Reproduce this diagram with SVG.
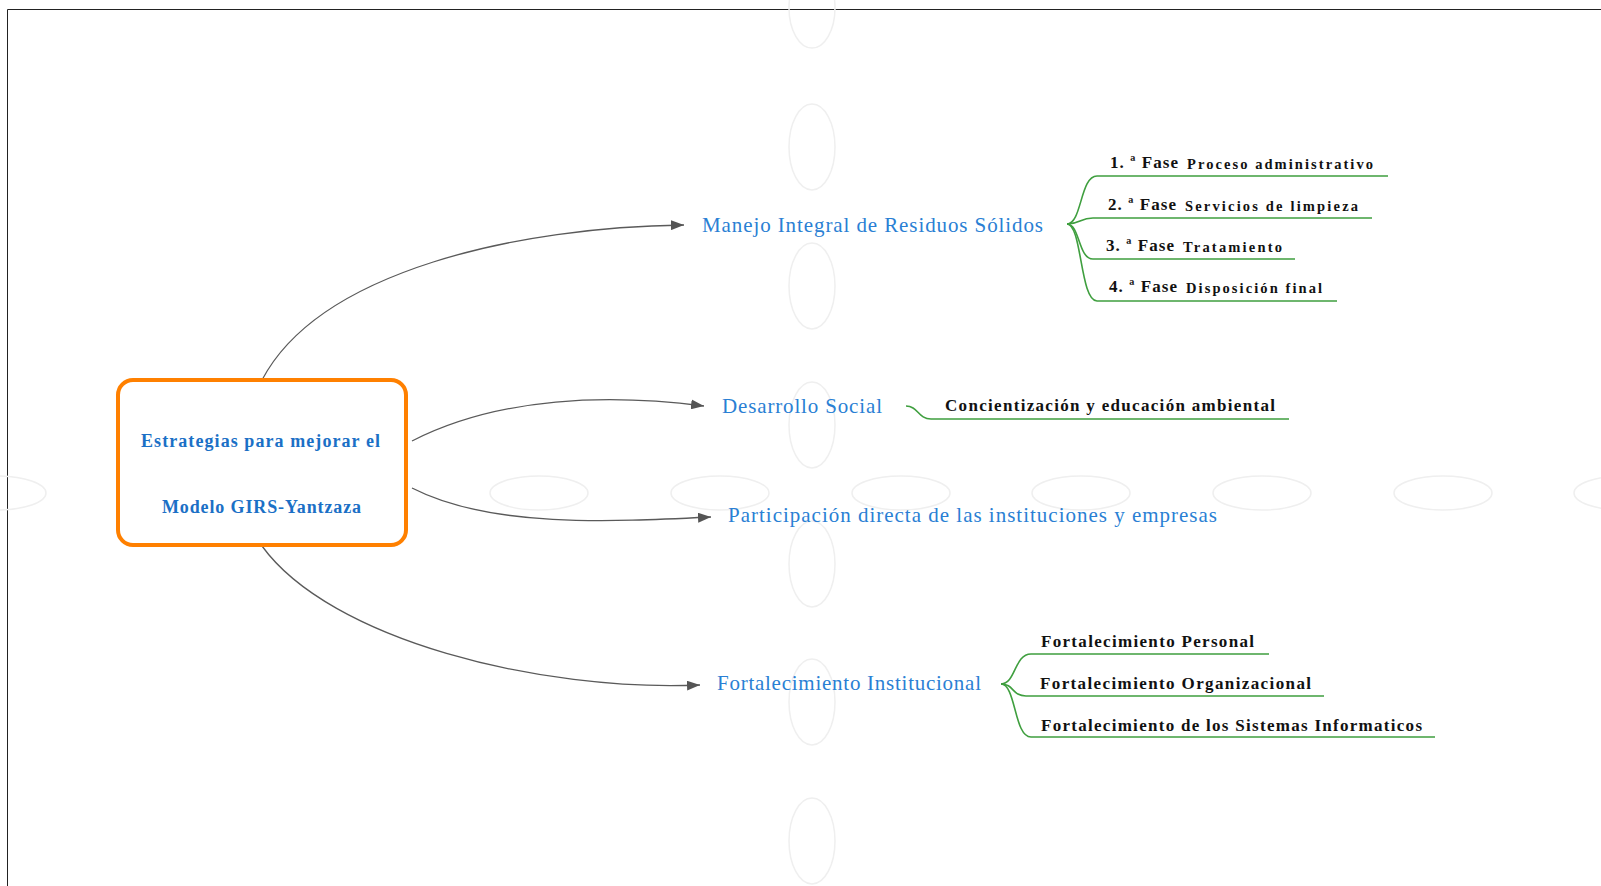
<svg xmlns="http://www.w3.org/2000/svg" width="1601" height="886" viewBox="0 0 1601 886">
<defs>
<style>
.wm{fill:none;stroke:#efefef;stroke-width:1.5}
.conn{fill:none;stroke:#5a5a5a;stroke-width:1.3}
.sub{fill:none;stroke:#3f9f3f;stroke-width:1.6}
.root{font-family:"Liberation Serif",serif;font-weight:bold;font-size:18px;fill:#1b70c6}
.br{font-family:"Liberation Serif",serif;font-size:21px;fill:#2a7fd4}
.lf{font-family:"Liberation Serif",serif;font-weight:bold;font-size:17px;fill:#111}
.ph{font-family:"Liberation Serif",serif;font-weight:bold;font-size:17px;fill:#111}
.sm{font-family:"Liberation Serif",serif;font-weight:bold;font-size:14.5px;fill:#111}
</style>
<marker id="ah" markerUnits="userSpaceOnUse" markerWidth="14" markerHeight="10" refX="13" refY="5" orient="auto">
<path d="M0,0 L13,5 L0,10 Z" fill="#555"/>
</marker>
</defs>
<rect x="0" y="0" width="1601" height="886" fill="#fff"/>
<path d="M7.5,886 L7.5,9.5 L1601,9.5" fill="none" stroke="#222" stroke-width="1"/>
<g id="watermark">
<ellipse class="wm" cx="812" cy="8" rx="23" ry="40"/>
<ellipse class="wm" cx="812" cy="147" rx="23" ry="43"/>
<ellipse class="wm" cx="812" cy="286" rx="23" ry="43"/>
<ellipse class="wm" cx="812" cy="425" rx="23" ry="43"/>
<ellipse class="wm" cx="812" cy="564" rx="23" ry="43"/>
<ellipse class="wm" cx="812" cy="702" rx="23" ry="43"/>
<ellipse class="wm" cx="812" cy="841" rx="23" ry="43"/>
<ellipse class="wm" cx="-3" cy="493" rx="49" ry="17"/>
<ellipse class="wm" cx="539" cy="493" rx="49" ry="17"/>
<ellipse class="wm" cx="720" cy="493" rx="49" ry="17"/>
<ellipse class="wm" cx="901" cy="493" rx="49" ry="17"/>
<ellipse class="wm" cx="1081" cy="493" rx="49" ry="17"/>
<ellipse class="wm" cx="1262" cy="493" rx="49" ry="17"/>
<ellipse class="wm" cx="1443" cy="493" rx="49" ry="17"/>
<ellipse class="wm" cx="1623" cy="493" rx="49" ry="17"/>
</g>
<g id="connectors">
<path class="conn" d="M262,380 C320,270 520,227 684,225" marker-end="url(#ah)"/>
<path class="conn" d="M412,441 C500,396 610,394 704,406" marker-end="url(#ah)"/>
<path class="conn" d="M412,488 C490,528 610,522 711,517" marker-end="url(#ah)"/>
<path class="conn" d="M262,546 C330,640 540,692 700,685" marker-end="url(#ah)"/>
<path class="sub" d="M1067,224 C1082,224 1080,176 1097,176 L1388,176"/>
<path class="sub" d="M1067,224 C1080,224 1080,218 1093,218 L1372,218"/>
<path class="sub" d="M1067,224 C1080,224 1078,259 1093,259 L1295,259"/>
<path class="sub" d="M1067,224 C1082,224 1080,301 1097,301 L1337,301"/>
<path class="sub" d="M906,406 C918,406 918,419 931,419 L1289,419"/>
<path class="sub" d="M1001,684 C1016,684 1014,654 1031,654 L1269,654"/>
<path class="sub" d="M1001,684 C1014,684 1012,696 1026,696 L1324,696"/>
<path class="sub" d="M1001,684 C1016,684 1014,737 1031,737 L1435,737"/>
</g>
<g id="root">
<rect x="118" y="380" width="288" height="165" rx="15" fill="#fff" stroke="#ff8000" stroke-width="4"/>
<text class="root" x="141" y="447" textLength="239" lengthAdjust="spacing">Estrategias para mejorar el</text>
<text class="root" x="162" y="513" textLength="199" lengthAdjust="spacing">Modelo GIRS-Yantzaza</text>
</g>
<g id="n-manejo"><text class="br" x="702" y="232" textLength="341" lengthAdjust="spacing">Manejo Integral de Residuos Sólidos</text></g>
<g id="n-desarrollo"><text class="br" x="722" y="413" textLength="160" lengthAdjust="spacing">Desarrollo Social</text></g>
<g id="n-participacion"><text class="br" x="728" y="522" textLength="489" lengthAdjust="spacing">Participación directa de las instituciones y empresas</text></g>
<g id="n-fortalecimiento"><text class="br" x="717" y="690" textLength="264" lengthAdjust="spacing">Fortalecimiento Institucional</text></g>
<g id="m1"><text class="ph" x="1110" y="168" textLength="68" lengthAdjust="spacing">1. ª Fase</text><text class="sm" x="1187" y="169" textLength="186" lengthAdjust="spacing">Proceso administrativo</text></g>
<g id="m2"><text class="ph" x="1108" y="210" textLength="68" lengthAdjust="spacing">2. ª Fase</text><text class="sm" x="1185" y="211" textLength="173" lengthAdjust="spacing">Servicios de limpieza</text></g>
<g id="m3"><text class="ph" x="1106" y="251" textLength="68" lengthAdjust="spacing">3. ª Fase</text><text class="sm" x="1183" y="252" textLength="99" lengthAdjust="spacing">Tratamiento</text></g>
<g id="m4"><text class="ph" x="1109" y="292" textLength="68" lengthAdjust="spacing">4. ª Fase</text><text class="sm" x="1186" y="293" textLength="136" lengthAdjust="spacing">Disposición final</text></g>
<g id="d1"><text class="lf" x="945" y="411" textLength="330" lengthAdjust="spacing">Concientización y educación ambiental</text></g>
<g id="f1"><text class="lf" x="1041" y="647" textLength="213" lengthAdjust="spacing">Fortalecimiento Personal</text></g>
<g id="f2"><text class="lf" x="1040" y="689" textLength="271" lengthAdjust="spacing">Fortalecimiento Organizacional</text></g>
<g id="f3"><text class="lf" x="1041" y="731" textLength="381" lengthAdjust="spacing">Fortalecimiento de los Sistemas Informaticos</text></g>
</svg>
